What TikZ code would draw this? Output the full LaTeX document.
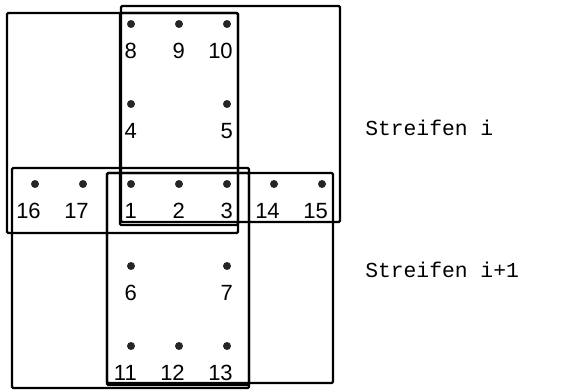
\documentclass[tikz,border=0pt]{standalone}
\usepackage{fontspec}
\setmainfont{Liberation Sans}
\newfontfamily\stripfont{Liberation Mono}

\begin{document}
\begin{tikzpicture}[x=0.75pt,y=-0.75pt,
    frame/.style={line width=1.7pt, rounded corners=1pt},
    dot/.style={circle, fill=black!85, inner sep=0pt, minimum size=6pt},
    num/.style={font=\fontsize{16.5}{16.5}\selectfont, anchor=north east, inner sep=0pt},
    strip/.style={font=\stripfont\fontsize{16}{16}\selectfont, anchor=west, inner sep=0pt}]
    \useasboundingbox (0,0) rectangle (584,391);

    % Streifen i
    \draw[frame] (7,13) rectangle (238,233);
    \draw[frame] (121,6) rectangle (340,222);
    \draw[frame] (120,13) rectangle (238,225);

    % Streifen i+1
    \draw[frame] (12,168) rectangle (249,388);
    \draw[frame] (107,173) rectangle (333,383);
    \draw[frame] (107,173) rectangle (249,385);

    % Punkte mit Nummern
    \foreach \n/\x/\y in {8/131/24, 9/179/24, 10/227/24, 4/131/104, 5/227/104,
        16/35/184, 17/83/184, 1/131/184, 2/179/184, 3/227/184, 14/274/184, 15/322/184,
        6/131/266, 7/227/266, 11/131/346, 12/179/346, 13/227/346} {
        \node[dot] (p\n) at (\x,\y) {};
        \node[num] (n\n) at ([shift={(6,19)}]p\n.center) {\n};
    }

    \node[strip] (si) at (365,128) {Streifen i};
    \node[strip] (sj) at (365,270) {Streifen i+1};
\end{tikzpicture}
\end{document}
